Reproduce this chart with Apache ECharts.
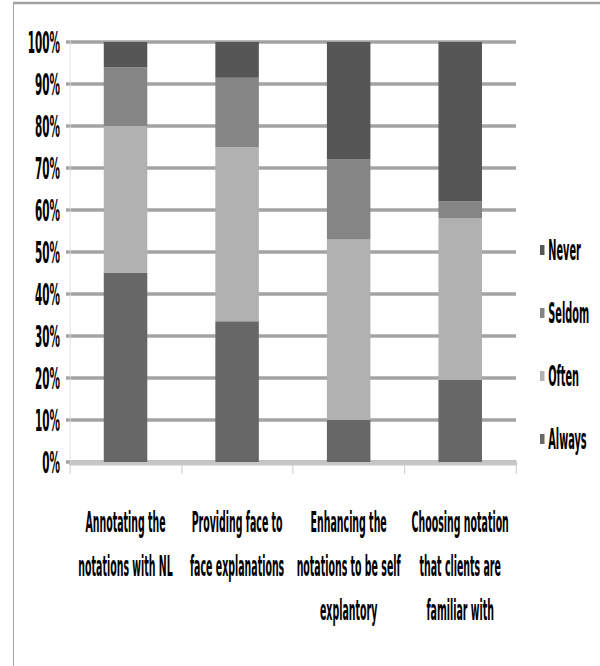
<!DOCTYPE html>
<html>
<head>
<meta charset="utf-8">
<script src="https://cdn.jsdelivr.net/npm/echarts@6/dist/echarts.min.js"></script>
<style>
  html, body { margin: 0; padding: 0; background: #ffffff; }
  #frame { position: relative; width: 600px; height: 666px; overflow: hidden; }
  /* Laid out on an 800x333 canvas, then squeezed horizontally and stretched vertically */
  #chart { position: absolute; left: 0; top: 0; width: 800px; height: 333px;
           transform: scale(0.75, 2); transform-origin: 0 0; }
</style>
</head>
<body>
<div id="frame"><div id="chart"></div></div>
<script>
// Survey answers, percent of respondents per practice
const categories = [
  'Annotating the\nnotations with NL',
  'Providing face to\nface explanations',
  'Enhancing the\nnotations to be self\nexplantory',
  'Choosing notation\nthat clients are\nfamiliar with'
];
const always = [45, 33.5, 10, 19.5];
const often  = [35, 41.5, 43, 38.5];
const seldom = [14, 16.5, 19, 4];
const never  = [6, 8.5, 28, 38];

const yTicks = { min: 0, max: 100, interval: 10 };
const legendOrder = ['Never', 'Seldom', 'Often', 'Always'];

const colors = { Always: '#676767', Often: '#b1b1b1', Seldom: '#858585', Never: '#565656' };
const narrow = '"Liberation Sans Narrow", "Arial Narrow", "DejaVu Sans Condensed", sans-serif';

const chart = echarts.init(document.getElementById('chart'), null, { renderer: 'svg' });

function bar(name, data) {
  return {
    name: name,
    type: 'bar',
    stack: 'total',
    barWidth: '39%',
    data: data,
    itemStyle: { color: colors[name] }
  };
}

chart.setOption({
  animation: false,
  backgroundColor: '#ffffff',
  graphic: [{
    type: 'rect',
    shape: { x: 18, y: 1.5, width: 900, height: 400 },
    style: { fill: 'none', stroke: '#a3a3a3', lineWidth: 1.3 },
    silent: true
  }],
  grid: { left: 93, right: 112, top: 21, bottom: 102, containLabel: false },
  legend: {
    orient: 'vertical',
    left: 715,
    top: 112,
    data: legendOrder,
    icon: 'rect',
    itemWidth: 6,
    itemHeight: 5,
    itemGap: 15.5,
    textStyle: { fontFamily: narrow, fontSize: 14.5, fontWeight: 'bold', color: '#000', lineHeight: 16 }
  },
  xAxis: {
    type: 'category',
    data: categories,
    axisLine: { show: true, lineStyle: { color: '#c6c6c6', width: 2.5 } },
    axisTick: { show: true, length: 6, lineStyle: { color: '#cacaca', width: 1.3 } },
    axisLabel: {
      interval: 0,
      margin: 19,
      fontFamily: narrow,
      fontSize: 14,
      fontWeight: 'bold',
      lineHeight: 22,
      color: '#000'
    }
  },
  yAxis: {
    type: 'value',
    min: yTicks.min,
    max: yTicks.max,
    interval: yTicks.interval,
    axisLine: { show: true, lineStyle: { color: '#e2e2e2', width: 1.3 } },
    axisTick: { show: true, inside: false, length: 5, lineStyle: { color: '#a3a3a3', width: 1.7 } },
    splitLine: { show: true, lineStyle: { color: '#a3a3a3', width: 1.7 } },
    axisLabel: {
      formatter: '{value}%',
      margin: 13,
      fontFamily: narrow,
      fontSize: 15.5,
      fontWeight: 'bold',
      color: '#000'
    }
  },
  series: [
    bar('Always', always),
    bar('Often', often),
    bar('Seldom', seldom),
    bar('Never', never)
  ]
});
</script>
</body>
</html>
